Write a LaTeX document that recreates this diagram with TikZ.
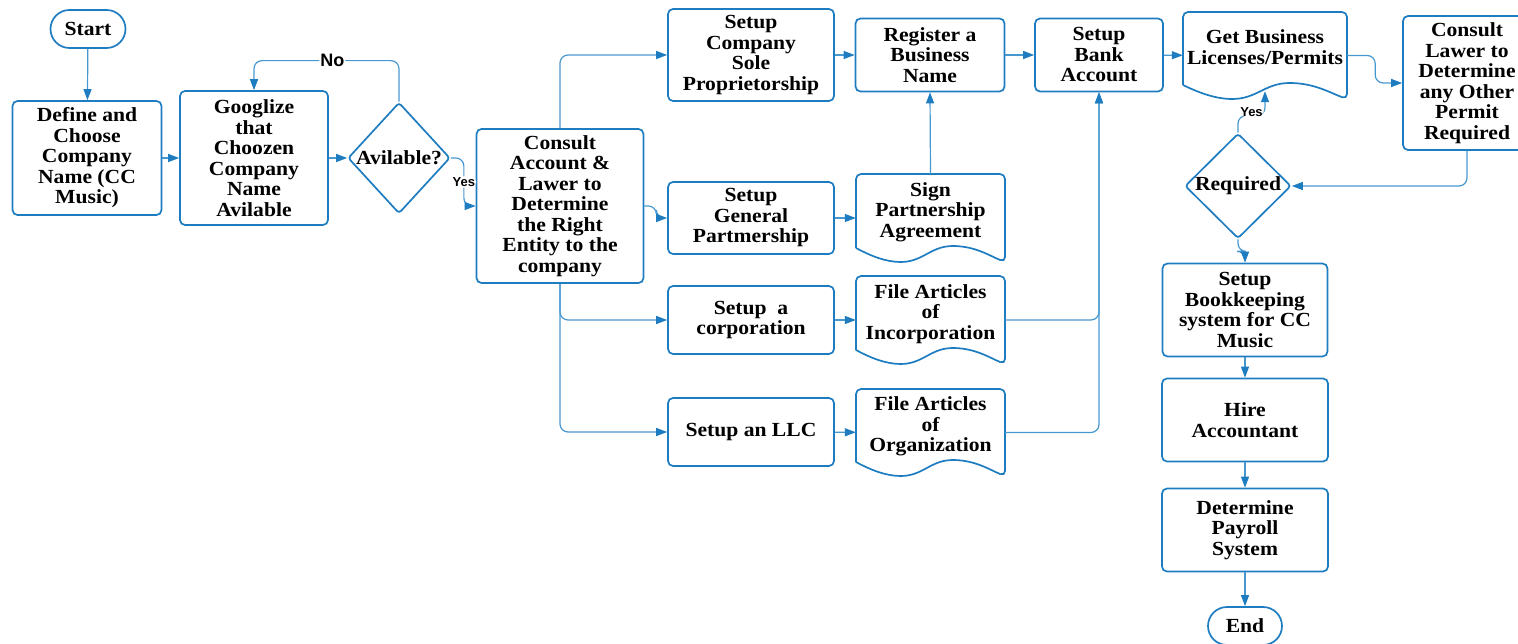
\documentclass[tikz,border=0pt]{standalone}
\usepackage{fontspec}
\setmainfont[FakeStretch=1.08]{Liberation Serif}
\newfontfamily\yesnofont{Liberation Sans}
\usetikzlibrary{shapes.geometric,arrows.meta,calc}
\definecolor{boxblue}{RGB}{30,124,192}
\definecolor{linkblue}{RGB}{72,152,208}
\tikzset{
  boxfont/.style={font=\bfseries\fontsize{20}{20.5}\selectfont},
  box/.style={draw=boxblue, line width=1.7pt, rounded corners=5pt, align=center, inner sep=0pt, boxfont},
  pill/.style={box, rounded corners=19pt, minimum width=75pt, minimum height=38pt},
  decision/.style={box, diamond, rounded corners=3pt},
  docline/.style={draw=boxblue, line width=1.7pt},
  doctext/.style={align=center, inner sep=0pt, boxfont},
  conn/.style={draw=linkblue, line width=1.2pt, rounded corners=8pt, -{Triangle[length=11pt,width=8pt,color=boxblue]}},
  yesno/.style={fill=white, inner sep=1pt, font=\yesnofont\bfseries\fontsize{13}{13}\selectfont}
}
\newcommand{\docshape}[6]{%
  \draw[docline] (#2,#5-14) [rounded corners=5pt] -- (#2,#3) -- (#4,#3) -- (#4,#5) [sharp corners]
    .. controls ({#2+0.9*(#4-#2)},#5-6) and ({#2+0.8*(#4-#2)},#5-16) .. ({#2+0.65*(#4-#2)},#5-16)
    .. controls ({#2+0.5*(#4-#2)},#5-16) and ({#2+0.45*(#4-#2)},#5) .. ({#2+0.3*(#4-#2)},#5)
    .. controls ({#2+0.2*(#4-#2)},#5) and ({#2+0.1*(#4-#2)},#5-6) .. (#2,#5-14);
  \node[doctext, minimum width={#4-#2}, minimum height={#5-#3}] (#1) at ({(#2+#4)/2},{(#3+#5)/2}) {#6\\[-4pt]};}
\begin{document}
\begin{tikzpicture}[x=1pt, y=-1pt]
\useasboundingbox (0,0) rectangle (1518,644);
\node[pill] (start) at (88,29) {Start};
\node[box, minimum width=149pt, minimum height=114pt] (define) at (87,158) {Define and\\Choose\\Company\\Name (CC\\Music)};
\node[box, minimum width=148pt, minimum height=134pt] (google) at (254,158) {Googlize\\that\\Choozen\\Company\\Name\\Avilable};
\node[decision, minimum width=102pt, minimum height=111pt] (avail) at (399,158) {\makebox[0pt]{Avilable?}};
\node[box, minimum width=167pt, minimum height=154pt] (consult) at (560,206) {Consult\\Account \&\\Lawer to\\Determine\\the Right\\Entity to the\\company};
\node[box, minimum width=166pt, minimum height=92pt] (sole) at (751,55) {Setup\\Company\\Sole\\Proprietorship};
\node[box, minimum width=166pt, minimum height=72pt] (general) at (751,218) {Setup\\General\\Partmership};
\node[box, minimum width=166pt, minimum height=68pt] (corp) at (751,320) {Setup~~a\\corporation};
\node[box, minimum width=166pt, minimum height=68pt] (llc) at (751,432) {Setup an LLC};
\node[box, minimum width=149pt, minimum height=73pt] (register) at (930,55) {Register a\\Business\\Name};
\docshape{sign}{856}{174}{1005}{262}{Sign\\Partnership\\Agreement}
\docshape{finc}{856}{276}{1005}{364}{File Articles\\of\\Incorporation}
\docshape{forg}{856}{389}{1005}{476}{File Articles\\of\\Organization}
\node[box, minimum width=128pt, minimum height=73pt] (bank) at (1099,55) {Setup\\Bank\\Account};
\docshape{get}{1183}{12}{1347}{99}{Get Business\\Licenses/Permits}
\node[box, minimum width=128pt, minimum height=134pt] (lawer) at (1467,83) {Consult\\Lawer to\\Determine\\any Other\\Permit\\Required};
\node[decision, minimum width=106pt, minimum height=105pt] (required) at (1238,186) {\makebox[0pt]{Required}};
\node[box, minimum width=165pt, minimum height=93pt] (book) at (1245,310) {Setup\\Bookkeeping\\system for CC\\Music};
\node[box, minimum width=166pt, minimum height=83pt] (hire) at (1245,420) {Hire\\Accountant};
\node[box, minimum width=166pt, minimum height=83pt] (payroll) at (1245,530) {Determine\\Payroll\\System};
\node[pill, minimum width=74pt] (end) at (1245,626) {End};
\draw[conn] (start) -- (define);
\draw[conn] (define) -- (google);
\draw[conn] (google) -- (avail);
\draw[conn] (avail.north) -- ++(0,-41) -| node[pos=0.23, yesno, font=\yesnofont\bfseries\fontsize{18}{18}\selectfont]{No} (google.north);
\draw[conn] (avail.east) -- ++(13,0) |- node[pos=0.25, yesno]{Yes} (consult.west);
\draw[conn] (consult.north) |- (sole.west);
\draw[conn] (consult.east) -- ++(12,0) |- (general.west);
\draw[conn] (consult.south) |- (corp.west);
\draw[conn] (consult.south) |- (llc.west);
\draw[conn] (sole) -- (register);
\draw[conn] (general) -- (sign);
\draw[conn] (sign.north) -- (register.south);
\draw[conn] (corp) -- (finc);
\draw[conn] (llc) -- (forg);
\draw[conn] (register) -- (bank);
\draw[conn] (finc.east) -| (bank.south);
\draw[conn] (forg.east) -| (bank.south);
\draw[conn] (bank) -- (get);
\draw[conn] (get.east) -- ++(28,0) |- (lawer.west);
\draw[conn] (lawer.south) |- (required.east);
\draw[conn] (required.north) -- ++(0,-17) -| node[pos=0.25, yesno, yshift=4pt]{Yes} ($(get.south)+(0,-8)$);
\draw[conn] (required.south) -- ++(0,12) -| (book.north);
\draw[conn] (book) -- (hire);
\draw[conn] (hire) -- (payroll);
\draw[conn] (payroll) -- (end);
\end{tikzpicture}
\end{document}
